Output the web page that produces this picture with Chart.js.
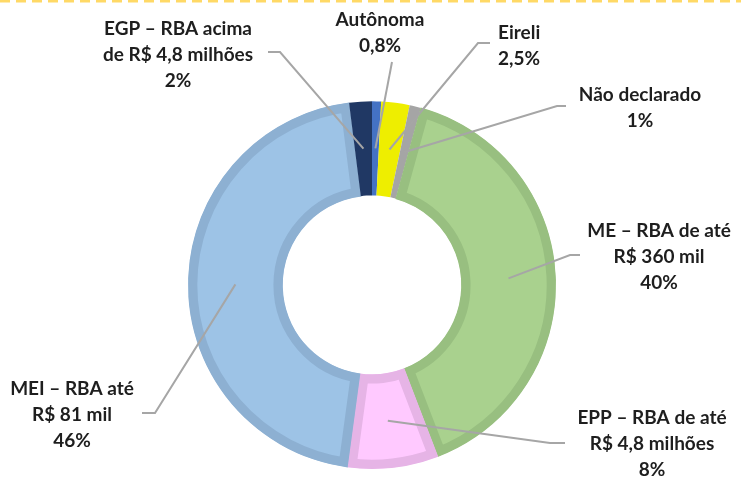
<!DOCTYPE html>
<html>
<head>
<meta charset="utf-8">
<script src="https://cdn.jsdelivr.net/npm/chart.js@4"></script>
<style>
  html, body { margin: 0; padding: 0; background: #fff; }
  #wrap { width: 741px; height: 479px; position: relative; }
</style>
</head>
<body>
<div id="wrap"><canvas id="chart-area"></canvas></div>
<script>
// slices, clockwise from the top
var categories = ['Autônoma', 'Eireli', 'Não declarado', 'ME – RBA de até R$ 360 mil',
  'EPP – RBA de até R$ 4,8 milhões', 'MEI – RBA até R$ 81 mil', 'EGP – RBA acima de R$ 4,8 milhões'];
var values = [0.8, 2.5, 1, 40, 8, 46, 2];
var labelLines = [
  ['Autônoma', '0,8%'],
  ['Eireli', '2,5%'],
  ['Não declarado', '1%'],
  ['ME – RBA de até', 'R$ 360 mil', '40%'],
  ['EPP – RBA de até', 'R$ 4,8 milhões', '8%'],
  ['MEI – RBA até', 'R$ 81 mil', '46%'],
  ['EGP – RBA acima', 'de R$ 4,8 milhões', '2%']
];

var fills   = ['#4472C4', '#EEEE00', '#A5A5A5', '#A9D18E', '#FFC9FF', '#9DC3E6', '#203864'];
var borders = ['#4472C4', '#EEEE00', '#999999', '#98BF80', '#E6B4E6', '#8DB0D2', '#203864'];
var borderW = [0, 0, 0, 9, 9, 9, 0];

// label placement: text x, first line y, align, leader elbow and end
var layout = [
  { x: 380, y: 20, align: 'center', elbow: [392, 62], end: [392, 62] },
  { x: 498, y: 33, align: 'left', elbow: [478, 43], end: [490, 43] },
  { x: 640, y: 95, align: 'center', elbow: [557, 106], end: [566, 106] },
  { x: 659, y: 231, align: 'center', elbow: [570, 255], end: [580, 255] },
  { x: 652, y: 418, align: 'center', elbow: [550, 443], end: [565, 443] },
  { x: 72, y: 389, align: 'center', elbow: [155, 413], end: [142, 413] },
  { x: 178, y: 29, align: 'center', elbow: [280, 52], end: [268, 52] }
];

var labelPlugin = {
  id: 'outLabels',
  afterDraw: function(chart) {
    var ctx = chart.ctx;
    ctx.save();
    // dashed rule on top
    ctx.strokeStyle = '#FFD966';
    ctx.lineWidth = 3;
    ctx.setLineDash([10, 6]);
    ctx.beginPath();
    ctx.moveTo(0, 1);
    ctx.lineTo(741, 1);
    ctx.stroke();
    ctx.setLineDash([]);

    var arcs = chart.getDatasetMeta(0).data;
    ctx.strokeStyle = '#A6A6A6';
    ctx.lineWidth = 2;
    arcs.forEach(function(arc, i) {
      var p = arc.getCenterPoint();
      var l = layout[i];
      ctx.beginPath();
      ctx.moveTo(p.x, p.y);
      ctx.lineTo(l.elbow[0], l.elbow[1]);
      ctx.lineTo(l.end[0], l.end[1]);
      ctx.stroke();
    });

    ctx.fillStyle = '#1E1E1E';
    ctx.font = 'bold 19px Lato';
    ctx.textBaseline = 'middle';
    labelLines.forEach(function(lines, i) {
      var l = layout[i];
      ctx.textAlign = l.align;
      lines.forEach(function(t, j) {
        ctx.fillText(t, l.x, l.y + j * 26);
      });
    });
    ctx.restore();
  }
};

var config = {
  type: 'doughnut',
  data: {
    labels: categories,
    datasets: [{
      data: values,
      backgroundColor: fills,
      borderColor: borders,
      borderWidth: borderW,
      borderAlign: 'inner'
    }]
  },
  options: {
    responsive: true,
    maintainAspectRatio: false,
    animation: false,
    cutout: '48.5%',
    rotation: 0,
    layout: { padding: { top: 101, bottom: 10, left: 188, right: 185 } },
    plugins: {
      legend: { display: false },
      tooltip: { enabled: false }
    }
  },
  plugins: [labelPlugin]
};

window.onload = function() {
  var ctx = document.getElementById('chart-area').getContext('2d');
  window.myPie = new Chart(ctx, config);
};
</script>
</body>
</html>
